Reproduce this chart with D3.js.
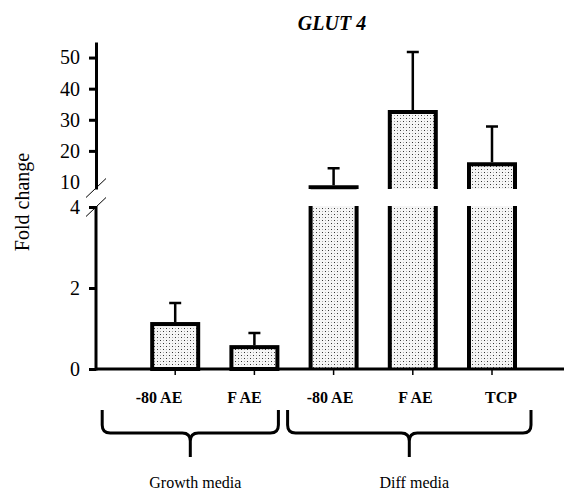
<!DOCTYPE html>
<html>
<head>
<meta charset="utf-8">
<script src="https://cdn.jsdelivr.net/npm/d3@7"></script>
<style>
body { margin: 0; background: #fff; }
text { font-family: "Liberation Serif", "Times New Roman", serif; fill: #000; }
</style>
</head>
<body>
<div id="chart"></div>
<script>
// data
const categories = ["-80 AE", "F AE", "-80 AE", "F AE", "TCP"];
const groupOf = [0, 0, 1, 1, 1];
const groups = ["Growth media", "Diff media"];
const means = [1.11, 0.54, 8.3, 32.5, 15.7];
const upperErr = [0.52, 0.35, 6.1, 19.3, 12.1];
const lowTicks = [0, 2, 4];
const highTicks = [10, 20, 30, 40, 50];

const W = 564, H = 492;
const axisX = 96, baseY = 369;
const breakLow = 4;

const svg = d3.select("#chart").append("svg")
	.attr("width", W)
	.attr("height", H);

// stipple fill
const pat = svg.append("defs").append("pattern")
	.attr("id", "dots")
	.attr("width", 6).attr("height", 6)
	.attr("patternUnits", "userSpaceOnUse");
pat.append("rect").attr("width", 6).attr("height", 6).attr("fill", "#f6f6f6");
[[1, 1, "#333"], [4, 4, "#333"], [4, 1, "#aaa"], [1, 4, "#aaa"]].forEach(d => {
	pat.append("rect").attr("x", d[0]).attr("y", d[1]).attr("width", 1).attr("height", 1).attr("fill", d[2]);
});

// slot 0 sits on the y axis, bars go in slots 1..5
const x = d3.scaleLinear().domain([0, categories.length]).range([axisX, 492]);
const labelX = d3.scaleLinear().domain([0, categories.length - 1]).range([159, 501]);

// broken y axis: two scales
const yLow = d3.scaleLinear().domain([0, breakLow]).range([baseY, 207]);
const yHigh = d3.scaleLinear().domain([7.75, 55]).range([189, 42]);
const lowTop = 206, highBottom = yHigh.range()[0];

const y = v => v <= breakLow ? yLow(v) : yHigh(v);

const barW = 46;

// bars
means.forEach((m, i) => {
	const cx = x(i + 1), x0 = cx - barW / 2, x1 = cx + barW / 2;
	if (m <= breakLow) {
		svg.append("rect")
			.attr("x", x0).attr("y", y(m))
			.attr("width", barW).attr("height", baseY - y(m))
			.attr("fill", "url(#dots)")
			.attr("stroke", "#000").attr("stroke-width", 4);
	} else {
		svg.append("rect")
			.attr("x", x0).attr("y", lowTop)
			.attr("width", barW).attr("height", baseY - lowTop)
			.attr("fill", "url(#dots)");
		svg.append("path")
			.attr("d", `M${x0},${lowTop}V${baseY}M${x1},${lowTop}V${baseY}`)
			.attr("fill", "none").attr("stroke", "#000").attr("stroke-width", 4);
		svg.append("rect")
			.attr("x", x0).attr("y", y(m))
			.attr("width", barW).attr("height", highBottom - y(m))
			.attr("fill", "url(#dots)");
		svg.append("path")
			.attr("d", `M${x0},${highBottom}V${y(m)}H${x1}V${highBottom}`)
			.attr("fill", "none").attr("stroke", "#000").attr("stroke-width", 4);
	}
	// upper error whisker
	const top = y(m + upperErr[i]);
	svg.append("path")
		.attr("d", `M${cx},${y(m) - 2}V${top}M${cx - 6},${top}H${cx + 6}`)
		.attr("fill", "none").attr("stroke", "#000").attr("stroke-width", 2.5);
});

// y axes
const styleAxis = g => {
	g.attr("font-family", null);
	g.select(".domain").attr("stroke-width", 3);
	g.selectAll(".tick line").attr("stroke-width", 3);
	g.selectAll(".tick text").style("font-size", "20px");
};

svg.append("g")
	.attr("transform", `translate(${axisX},0)`)
	.call(d3.axisLeft(yHigh).tickValues(highTicks).tickFormat(d3.format("d"))
		.tickSize(7).tickPadding(9).tickSizeOuter(0))
	.call(styleAxis)
	.call(g => g.selectAll(".tick").filter(d => d === 10).select("line").remove());

svg.append("g")
	.attr("transform", `translate(${axisX},0)`)
	.call(d3.axisLeft(yLow).tickValues(lowTicks).tickFormat(d3.format("d"))
		.tickSize(7).tickPadding(9).tickSizeOuter(0))
	.call(styleAxis)
	.call(g => g.select(".domain").attr("d", `M0,${baseY + 1.5}V${lowTop}`));

// break marks
[highBottom - 1, lowTop + 1].forEach(yy => {
	svg.append("line")
		.attr("x1", axisX - 10).attr("y1", yy + 9.5)
		.attr("x2", axisX + 10).attr("y2", yy - 9.5)
		.attr("stroke", "#000").attr("stroke-width", 1);
});

// x axis
svg.append("line")
	.attr("x1", axisX).attr("x2", W)
	.attr("y1", baseY).attr("y2", baseY)
	.attr("stroke", "#000").attr("stroke-width", 3);

svg.selectAll(".xtick")
	.data(categories)
	.enter().append("line")
	.attr("class", "xtick")
	.attr("x1", (d, i) => x(i + 1)).attr("x2", (d, i) => x(i + 1))
	.attr("y1", baseY).attr("y2", baseY + 6)
	.attr("stroke", "#000").attr("stroke-width", 1.5);

svg.selectAll(".cat")
	.data(categories)
	.enter().append("text")
	.attr("class", "cat")
	.attr("x", (d, i) => labelX(i))
	.attr("y", 403)
	.attr("text-anchor", "middle")
	.style("font-size", "16px")
	.style("font-weight", "bold")
	.text(d => d);

// group braces
const bracePad = [[73, 24], [46, 39]];
const braceTop = 410, braceMid = 433, braceTip = 457, r = 8;
groups.forEach((name, gi) => {
	const xs = categories.map((c, i) => i).filter(i => groupOf[i] === gi).map(i => x(i + 1));
	const x0 = d3.min(xs) - bracePad[gi][0], x1 = d3.max(xs) + bracePad[gi][1];
	const m = (x0 + x1) / 2;
	svg.append("path")
		.attr("d", `M${x0},${braceTop}V${braceMid - r}Q${x0},${braceMid} ${x0 + r},${braceMid}H${m - r}Q${m},${braceMid} ${m},${braceMid + r}V${braceTip}`
			+ `M${m},${braceMid + r}Q${m},${braceMid} ${m + r},${braceMid}H${x1 - r}Q${x1},${braceMid} ${x1},${braceMid - r}V${braceTop}`)
		.attr("fill", "none").attr("stroke", "#000").attr("stroke-width", 3);
	svg.append("text")
		.attr("x", m + 5).attr("y", 488)
		.attr("text-anchor", "middle")
		.style("font-size", "16px")
		.text(name);
});

// title and y label
svg.append("text")
	.attr("x", 332).attr("y", 30)
	.attr("text-anchor", "middle")
	.style("font-size", "20px")
	.style("font-weight", "bold")
	.style("font-style", "italic")
	.text("GLUT 4");

svg.append("text")
	.attr("transform", "translate(29,202) rotate(-90)")
	.attr("text-anchor", "middle")
	.style("font-size", "20px")
	.text("Fold change");
</script>
</body>
</html>
